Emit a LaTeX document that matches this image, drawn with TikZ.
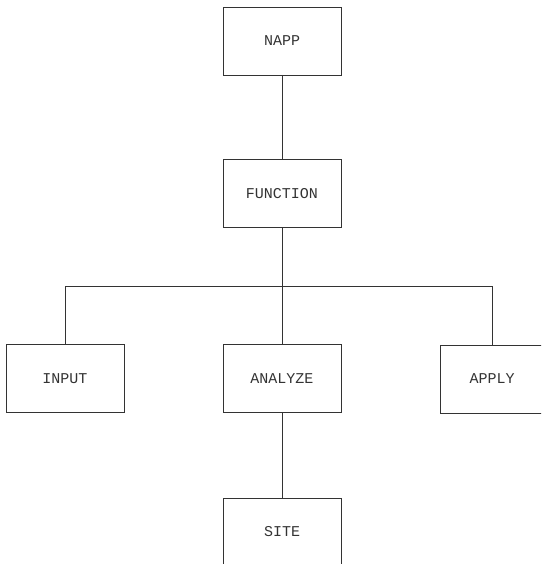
\documentclass[tikz,border=0pt]{standalone}
\usepackage{fontspec}
\setmonofont{Liberation Mono}
\usepackage{tikz}

\begin{document}
\begin{tikzpicture}[x=1pt, y=-1pt]
  \useasboundingbox (0,0) rectangle (541,564);
  \clip (0,0) rectangle (541,564);
  \begin{scope}[every node/.style={inner sep=0, outer sep=0}, modbox/.style={draw=black!80, line width=0.8pt, minimum width=118pt, minimum height=68pt, font=\ttfamily\fontsize{15}{17}\selectfont, text=black!80}, link/.style={black!80, line width=0.8pt}]
    \node [modbox] (NAPP) at (282,41) {NAPP};
    \node [modbox] (FUNCTION) at (282,193.5) {FUNCTION};
    \node [modbox] (INPUT) at (65,378.5) {INPUT};
    \node [modbox] (ANALYZE) at (282,378.5) {ANALYZE};
    \node [modbox, minimum width=104pt] (APPLY) at (492,379) {APPLY};
    \node [modbox] (SITE) at (282,532) {SITE};
    \coordinate (bus) at (282,286);
    \draw [link] (NAPP) -- (FUNCTION);
    \draw [link] (FUNCTION) -- (bus);
    \foreach \x in {INPUT,ANALYZE,APPLY} {\draw [link] (bus) -| (\x);};
    \draw [link] (ANALYZE) -- (SITE);
  \end{scope}
\end{tikzpicture}
\end{document}
